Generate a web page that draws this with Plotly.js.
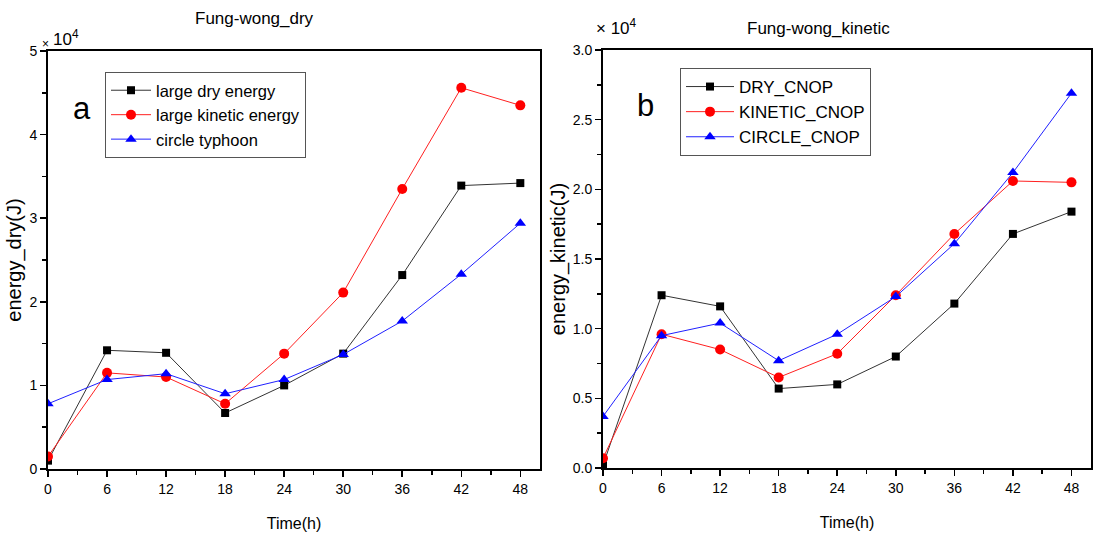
<!DOCTYPE html>
<html><head><meta charset="utf-8">
<script src="https://cdn.plot.ly/plotly-3.0.1.min.js"></script>
<style>html,body{margin:0;padding:0;background:#fff}#chart{width:1093px;height:536px}</style>
</head><body><div id="chart"></div>
<script>
// Time (h)
const hours = [0, 6, 12, 18, 24, 30, 36, 42, 48];
// Panel a: energy_dry (x10^4 J)
const dryLargeDry     = [0.10, 1.42, 1.39, 0.67, 1.00, 1.38, 2.32, 3.39, 3.42];
const dryLargeKinetic = [0.15, 1.15, 1.10, 0.78, 1.38, 2.11, 3.35, 4.56, 4.35];
const dryCircle       = [0.78, 1.07, 1.14, 0.90, 1.07, 1.37, 1.77, 2.33, 2.94];
// Panel b: energy_kinetic (x10^4 J)
const kinDryCnop      = [0.02, 1.24, 1.16, 0.57, 0.60, 0.80, 1.18, 1.68, 1.84];
const kinKineticCnop  = [0.07, 0.96, 0.85, 0.65, 0.82, 1.24, 1.68, 2.06, 2.05];
const kinCircleCnop   = [0.37, 0.95, 1.04, 0.77, 0.96, 1.23, 1.61, 2.12, 2.69];
const namesA = ['large dry energy', 'large kinetic energy', 'circle typhoon'];
const namesB = ['DRY_CNOP', 'KINETIC_CNOP', 'CIRCLE_CNOP'];
const xTicks = [0, 6, 12, 18, 24, 30, 36, 42, 48];
const yTicksA = [0, 1, 2, 3, 4, 5];
const yTicksB = [0, 0.5, 1.0, 1.5, 2.0, 2.5, 3.0];

const W = 1093, H = 536;
const px = x => x / W, py = y => 1 - y / H;
const FONT = 'Liberation Sans, Arial, sans-serif';
const colors = ['#000000', '#ff0000', '#0000ff'];
const lineColors = ['#333333', '#ff2020', '#2020ff'];
const symbols = ['square', 'circle', 'triangle-up'];
const msize = [8, 10, 10];

function mk(y, i, name, xa, ya, leg) {
  return {x: hours, y: y, name: name, type: 'scatter', mode: 'lines+markers',
    xaxis: xa, yaxis: ya, legend: leg,
    line: {color: lineColors[i], width: 1},
    marker: {color: colors[i], symbol: symbols[i], size: msize[i]}};
}
const traces = [
  mk(dryLargeDry, 0, namesA[0], 'x', 'y', 'legend'),
  mk(dryLargeKinetic, 1, namesA[1], 'x', 'y', 'legend'),
  mk(dryCircle, 2, namesA[2], 'x', 'y', 'legend'),
  mk(kinDryCnop, 0, namesB[0], 'x2', 'y2', 'legend2'),
  mk(kinKineticCnop, 1, namesB[1], 'x2', 'y2', 'legend2'),
  mk(kinCircleCnop, 2, namesB[2], 'x2', 'y2', 'legend2'),
];

const tickFont = {family: FONT, size: 14, color: '#000'};
function xax(dom, anchor) {
  return {domain: dom, anchor: anchor, range: [0, 50], tickvals: xTicks, ticks: 'outside', ticklen: 6,
    tickwidth: 1.5, tickcolor: '#000', showline: true, linecolor: '#000', linewidth: 2, mirror: true,
    showgrid: false, zeroline: false, tickfont: tickFont, fixedrange: true,
    minor: {dtick: 3, tick0: 0, ticks: 'outside', ticklen: 4, tickwidth: 1.5, tickcolor: '#000', showgrid: false},
    title: {text: 'Time(h)', font: {family: FONT, size: 16, color: '#000'}, standoff: 22}};
}
function yax(dom, anchor, rng, vals, fmt, ttl, mdt) {
  return {domain: dom, anchor: anchor, range: rng, tickvals: vals, tickformat: fmt, ticks: 'outside', ticklen: 6,
    tickwidth: 1.5, tickcolor: '#000', showline: true, linecolor: '#000', linewidth: 2, mirror: true,
    showgrid: false, zeroline: false, tickfont: tickFont, fixedrange: true,
    minor: {dtick: mdt, tick0: 0, ticks: 'outside', ticklen: 4, tickwidth: 1.5, tickcolor: '#000', showgrid: false},
    title: {text: ttl, font: {family: FONT, size: 20, color: '#000'}, standoff: 2}};
}
function topax(over, anchor) {
  return {overlaying: over, anchor: anchor, side: 'top', range: [0, 50], tickvals: xTicks, ticks: 'inside',
    ticklen: 6, tickwidth: 1.5, tickcolor: '#000', showticklabels: false, showline: false, showgrid: false,
    zeroline: false, fixedrange: true,
    minor: {dtick: 3, tick0: 0, ticks: 'inside', ticklen: 4, tickwidth: 1.5, tickcolor: '#000', showgrid: false}};
}
function rightax(over, anchor, rng, vals, mdt) {
  return {overlaying: over, anchor: anchor, side: 'right', range: rng, tickvals: vals, ticks: 'inside',
    ticklen: 6, tickwidth: 1.5, tickcolor: '#000', showticklabels: false, showline: false, showgrid: false,
    zeroline: false, fixedrange: true,
    minor: {dtick: mdt, tick0: 0, ticks: 'inside', ticklen: 4, tickwidth: 1.5, tickcolor: '#000', showgrid: false}};
}

const domXA = [px(48), px(540)], domXB = [px(603), px(1091)];
const domYA = [py(469), py(51)], domYB = [py(468), py(50)];

const legFont = {family: FONT, size: 16.5, color: '#000'};
const layout = {
  width: W, height: H, margin: {l: 0, r: 0, t: 0, b: 0},
  paper_bgcolor: '#fff', plot_bgcolor: '#fff', showlegend: true,
  xaxis: xax(domXA, 'y'),
  yaxis: yax(domYA, 'x', [0, 5], yTicksA, 'd', 'energy_dry(J)', 0.5),
  xaxis2: xax(domXB, 'y2'),
  yaxis2: yax(domYB, 'x2', [0, 3], yTicksB, '.1f', 'energy_kinetic(J)', 0.25),
  xaxis3: topax('x', 'y'),
  yaxis3: rightax('y', 'x', [0, 5], yTicksA, 0.5),
  xaxis4: topax('x2', 'y2'),
  yaxis4: rightax('y2', 'x2', [0, 3], yTicksB, 0.25),
  legend: {x: px(105), y: py(72), xanchor: 'left', yanchor: 'top', bgcolor: '#fff', itemwidth: 40,
    bordercolor: '#555', borderwidth: 1, font: legFont, tracegroupgap: 0},
  legend2: {x: px(680), y: py(68), xanchor: 'left', yanchor: 'top', bgcolor: '#fff', itemwidth: 48,
    bordercolor: '#555', borderwidth: 1, font: {family: FONT, size: 17, color: '#000'}, tracegroupgap: 0},
  annotations: [
    {text: 'Fung-wong_dry', x: px(254), y: py(18), xref: 'paper', yref: 'paper', xanchor: 'center',
      yanchor: 'middle', showarrow: false, font: {family: FONT, size: 17, color: '#000'}},
    {text: 'Fung-wong_kinetic', x: px(818), y: py(28), xref: 'paper', yref: 'paper', xanchor: 'center',
      yanchor: 'middle', showarrow: false, font: {family: FONT, size: 17, color: '#000'}},
    {text: '×', x: px(40), y: py(44), xref: 'paper', yref: 'paper',
      xanchor: 'left', yanchor: 'middle', showarrow: false, font: {family: FONT, size: 12, color: '#000'}},
    {text: '10<sup>4</sup>', x: px(51), y: py(38), xref: 'paper', yref: 'paper',
      xanchor: 'left', yanchor: 'middle', showarrow: false, font: {family: FONT, size: 17, color: '#000'}},
    {text: '× 10<sup>4</sup>', x: px(594), y: py(27), xref: 'paper', yref: 'paper',
      xanchor: 'left', yanchor: 'middle', showarrow: false, font: {family: FONT, size: 17, color: '#000'}},
    {text: 'a', x: px(82), y: py(108), xref: 'paper', yref: 'paper', xanchor: 'center', yanchor: 'middle',
      showarrow: false, font: {family: FONT, size: 31, color: '#000'}},
    {text: 'b', x: px(645), y: py(106), xref: 'paper', yref: 'paper', xanchor: 'center', yanchor: 'middle',
      showarrow: false, font: {family: FONT, size: 31, color: '#000'}},
  ]
};
Plotly.newPlot('chart', traces, layout, {displayModeBar: false, staticPlot: true});
</script></body></html>
